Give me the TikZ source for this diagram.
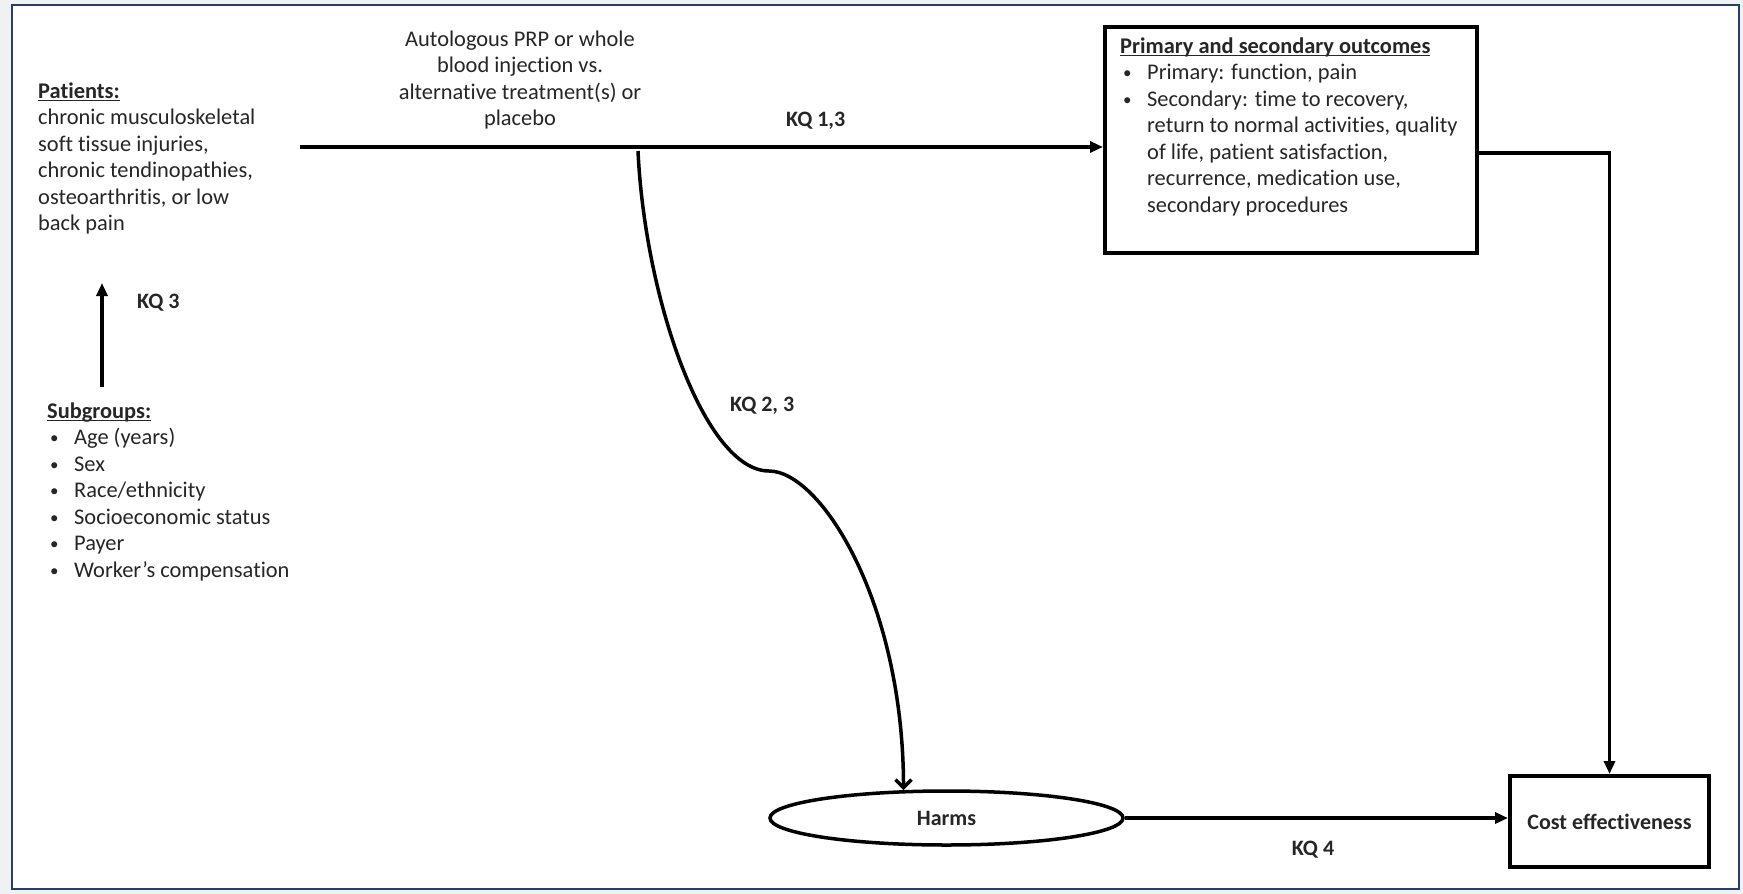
\documentclass[tikz,border=0pt]{standalone}
\usepackage{fontspec}
\setmainfont{Carlito}[Ligatures={NoCommon}]
\usetikzlibrary{arrows.meta,shapes.geometric,calc}
\definecolor{textc}{RGB}{38,38,38}
\definecolor{framec}{RGB}{40,62,102}
\definecolor{bgc}{RGB}{240,241,243}
\newcommand{\bul}{\hspace*{3pt}\makebox[24pt][l]{\raisebox{1pt}{\fontsize{17}{17}\selectfont•}}}
\newcommand{\cont}{\hspace*{27pt}}
\newcommand{\myul}[1]{\leavevmode\setbox0\hbox{#1}\rlap{\rule[-2.8pt]{\wd0}{1.3pt}}\box0}
\begin{document}
\begin{tikzpicture}[x=1pt,y=-1pt,
  txt/.style={font=\fontsize{22.4}{26.5}\selectfont, inner sep=0pt, text=textc},
  lbl/.style={font=\fontsize{22}{26.5}\selectfont\bfseries, inner sep=0pt, text=textc},
  conn/.style={line width=3.5pt, draw=black},
  arr/.style={conn, -{Triangle[length=13pt,width=11pt]}},
  barb/.style={conn, -{Straight Barb[length=8pt,width=16pt,line width=3.5pt]}},
  boxs/.style={draw=black, line width=4pt, rectangle, inner sep=0pt, fill=white},
]
\fill[bgc] (0,0) rectangle (1743,894);
\useasboundingbox (0,0) rectangle (1743,894);
\draw[draw=framec, line width=2.5pt, fill=white] (12,5) rectangle (1739,889);

% text blocks
\node[txt, anchor=north west, align=left] (pat) at (38,79.5)
  {\strut\myul{\textbf{Patients:}}\\chronic musculoskeletal\\soft tissue injuries,\\chronic tendinopathies,\\osteoarthritis, or low\\back pain};
\node[txt, anchor=north, align=center] (trt) at (520,27.5)
  {\strut Autologous PRP or whole\\blood injection vs.\\alternative treatment(s) or\\placebo};
\node[txt, anchor=north west, align=left] (sub) at (47,399.5)
  {\strut\myul{\textbf{Subgroups:}}\\ \bul Age (years)\\ \bul Sex\\ \bul Race/ethnicity\\ \bul Socioeconomic status\\ \bul Payer\\ \bul Worker’s compensation};

% outcomes box
\node[boxs, minimum width=372pt, minimum height=226pt] (outc) at (1291,140) {};
\node[txt, anchor=north west, align=left] (outt) at (1120,34.5)
  {\strut\myul{\textbf{Primary and secondary outcomes}}\\ \bul Primary: function, pain\\ \bul Secondary: time to recovery,\\ \cont return to normal activities, quality\\ \cont of life, patient satisfaction,\\ \cont recurrence, medication use,\\ \cont secondary procedures};

% cost box and harms ellipse
\node[boxs, lbl, minimum width=199pt, minimum height=91pt] (cost) at (1609.5,821.5) {Cost effectiveness};
\node[draw=black, ellipse, line width=3.5pt, minimum width=353pt, minimum height=54pt, inner sep=0pt, fill=white, lbl] (harms) at (946.5,818) {Harms};

% labels
\node[lbl, anchor=west] (kq13) at (786,121) {KQ 1,3};
\node[lbl, anchor=west] (kq3) at (137,303) {KQ 3};
\node[lbl, anchor=west] (kq23) at (730,406) {KQ 2, 3};
\node[lbl] (kq4) at (1313,850) {KQ 4};

% connectors
\coordinate (lstart) at (300,147);
\coordinate (split) at (638,151);
\coordinate (bend) at (769,471);
\coordinate (turn) at (1609.5,153);
\coordinate (k3tail) at (102,387);
\coordinate (k3tip) at (102,283);

\draw[arr] (lstart) -- (lstart -| outc.west);
\draw[barb] (split) .. controls (645,300) and (705,471) .. (bend)
  .. controls (820,471) and (903,600) .. (harms.147);
\draw[arr] (outc.east |- turn) -- (turn) -- (cost.north);
\draw[arr] (harms.east) -- (harms.east -| cost.west);
\draw[arr] (k3tail) -- (k3tip);
\end{tikzpicture}
\end{document}
